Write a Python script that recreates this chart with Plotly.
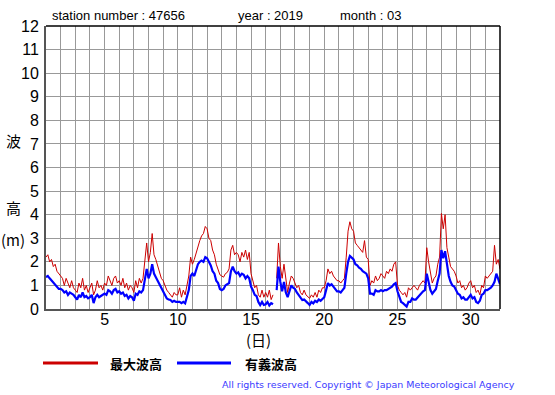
import plotly.graph_objects as go

# 3-hourly samples, day 1.000 .. 32.000 (None = missing)
max_wave = [
    2.2, 2.3, 2.0, 2.1, 1.8, 1.9, 1.6, 1.5,      # 1
    1.4, 1.3, 1.0, 1.3, 1.1, 0.9, 1.2, 0.9,      # 2
    0.8, 0.7, 1.1, 0.9, 1.3, 0.8, 1.0, 0.7,      # 3
    0.9, 1.1, 0.6, 0.8, 1.2, 0.9, 1.0, 0.8,      # 4
    1.1, 1.0, 1.4, 1.2, 1.0, 1.3, 1.4, 1.1,      # 5
    1.2, 1.0, 1.3, 0.9, 1.1, 0.8, 1.0, 0.9,      # 6
    0.7, 1.2, 0.9, 1.3, 1.1, 1.3, 2.0, 2.8,      # 7
    2.0, 2.4, 3.2, 2.3, 2.1, 1.8, 1.6, 1.3,      # 8
    1.2, 1.0, 0.8, 0.7, 0.6, 0.5, 0.7, 0.6,      # 9
    0.6, 0.9, 0.5, 0.8, 0.6, 1.0, 1.4, 2.2,      # 10
    1.9, 2.1, 2.4, 2.6, 2.9, 3.1, 3.2, 3.5,      # 11
    3.4, 3.0, 2.9, 2.5, 2.3, 1.9, 1.7, 1.45,     # 12
    1.4, 1.35, 1.5, 1.55, 1.7, 2.5, 2.7, 2.3,    # 13
    2.4, 2.3, 2.0, 2.4, 2.2, 2.5, 2.1, 2.4,      # 14
    1.5, 1.2, 0.9, 1.0, 0.6, 0.5, 0.8, 0.5,      # 15
    0.7, 0.5, 0.8, 0.4, 0.6, None, 1.3, 2.8,     # 16
    1.8, 1.3, 1.9, 1.2, 0.7, 1.1, 1.4, 1.3,      # 17
    1.1, 0.9, 1.0, 0.7, 0.6, 0.8, 0.6, 0.5,      # 18
    0.45, 0.6, 0.5, 0.7, 0.5, 0.8, 0.7, 0.9,     # 19
    0.9, 1.2, 1.7, 1.5, 1.6, 1.4, 1.3, 1.2,      # 20
    1.2, 1.1, 1.2, 1.3, 2.2, 3.3, 3.7, 3.4,      # 21
    3.3, 2.8, 2.7, 2.6, 2.5, 2.4, 2.9, 2.2,      # 22
    2.1, 1.0, 1.2, 1.1, 1.4, 1.2, 1.3, 1.5,      # 23
    1.4, 1.3, 1.6, 1.5, 1.7, 1.6, 1.9, 2.0,      # 24
    1.0, 0.8, 0.7, 0.6, 0.7, 0.5, 0.9, 0.8,      # 25
    0.9, 1.0, 0.9, 0.8, 1.0, 1.1, 1.2, 1.1,      # 26
    2.6, 2.0, 1.5, 1.1, 1.3, 1.4, 1.9, 2.2,      # 27
    4.05, 3.4, 4.0, 2.6, 2.2, 1.8, 1.7, 1.6,     # 28
    1.4, 1.1, 1.2, 0.9, 1.0, 0.8, 0.9, 1.1,      # 29
    1.2, 0.9, 1.0, 0.7, 0.8, 0.6, 1.0, 0.9,      # 30
    1.4, 1.3, 1.4, 1.5, 1.6, 2.7, 1.9, 2.1,      # 31
    1.7,                                         # 32.0
]

sig_wave = [
    1.35, 1.4, 1.3, 1.2, 1.1, 1.0, 0.9, 0.85,    # 1
    0.85, 0.8, 0.7, 0.75, 0.6, 0.7, 0.65, 0.6,   # 2
    0.5, 0.4, 0.6, 0.5, 0.7, 0.5, 0.55, 0.45,    # 3
    0.5, 0.6, 0.25, 0.5, 0.6, 0.5, 0.55, 0.6,    # 4
    0.65, 0.6, 0.8, 0.75, 0.65, 0.8, 0.85, 0.7,  # 5
    0.75, 0.65, 0.7, 0.55, 0.6, 0.45, 0.55, 0.5, # 6
    0.35, 0.65, 0.6, 0.75, 0.7, 0.8, 1.2, 1.7,   # 7
    1.3, 1.5, 1.9, 1.5, 1.35, 1.2, 1.0, 0.85,    # 8
    0.75, 0.6, 0.45, 0.4, 0.38, 0.3, 0.35, 0.3,  # 9
    0.3, 0.3, 0.25, 0.3, 0.24, 0.5, 0.8, 1.4,    # 10
    1.5, 1.4, 1.7, 1.9, 2.0, 2.05, 2.0, 2.2,     # 11
    2.15, 2.0, 1.85, 1.6, 1.5, 1.2, 1.1, 0.85,   # 12
    0.8, 0.85, 1.0, 1.05, 1.1, 1.6, 1.8, 1.6,    # 13
    1.5, 1.55, 1.4, 1.5, 1.45, 1.3, 1.4, 1.3,    # 14
    0.95, 0.8, 0.6, 0.55, 0.3, 0.17, 0.3, 0.17,  # 15
    0.2, 0.3, 0.15, 0.25, 0.2, None, 0.8, 1.8,   # 16
    1.15, 0.75, 1.15, 0.7, 0.5, 0.75, 1.0, 0.9,  # 17
    0.85, 0.7, 0.6, 0.45, 0.38, 0.4, 0.3, 0.25,  # 18
    0.17, 0.3, 0.24, 0.35, 0.3, 0.4, 0.35, 0.45, # 19
    0.5, 0.8, 1.1, 1.0, 1.05, 0.95, 0.85, 0.75,  # 20
    0.75, 0.7, 0.8, 0.9, 1.5, 2.0, 2.25, 2.15,   # 21
    2.1, 1.9, 1.85, 1.75, 1.7, 1.6, 1.55, 1.5,   # 22
    1.3, 0.65, 0.65, 0.6, 0.8, 0.75, 0.75, 0.8,  # 23
    0.75, 0.8, 0.8, 0.85, 0.9, 0.95, 1.05, 1.1,  # 24
    0.75, 0.5, 0.3, 0.25, 0.15, 0.1, 0.3, 0.3,   # 25
    0.45, 0.4, 0.4, 0.5, 0.6, 0.65, 0.75, 0.8,   # 26
    1.5, 1.15, 0.8, 0.65, 0.75, 0.85, 1.2, 1.5,  # 27
    2.5, 2.15, 2.45, 1.8, 1.4, 1.15, 1.0, 0.95,  # 28
    0.8, 0.65, 0.6, 0.45, 0.5, 0.4, 0.4, 0.5,    # 29
    0.6, 0.45, 0.5, 0.3, 0.25, 0.35, 0.6, 0.65,  # 30
    0.8, 0.8, 0.85, 0.9, 1.0, 1.15, 1.5, 1.3,    # 31
    1.05,                                        # 32.0
]

days = [1 + i / 8 for i in range(len(max_wave))]
x_ticks = [5, 10, 15, 20, 25, 30]
y_ticks = list(range(0, 13))

title_parts = ["station number : 47656", "year : 2019", "month : 03"]
y_label_parts = ["波", "高", "(m)"]
x_label = "(日)"
legend_names = ["最大波高", "有義波高"]
copyright_text = "All rights reserved. Copyright © Japan Meteorological Agency"

RED = "#cc0000"
BLUE = "#0000ff"
FONT = "Arial, Liberation Sans, sans-serif"
JFONT = "Noto Sans CJK JP"

W, H = 555, 395
# plot area in window pixels
L, R, T, B = 46, 500, 26, 309


def px(xp):
    return (xp - L) / (R - L)


def py(yp):
    return (B - yp) / (B - T)


fig = go.Figure()
fig.add_trace(go.Scatter(x=days, y=max_wave, mode="lines", line=dict(color=RED, width=1),
                         connectgaps=False, showlegend=False, name=legend_names[0]))
fig.add_trace(go.Scatter(x=days, y=sig_wave, mode="lines", line=dict(color=BLUE, width=2.2),
                         connectgaps=False, showlegend=False, name=legend_names[1]))

grid_col = "#999999"
fig.update_layout(
    width=W, height=H, autosize=False,
    margin=dict(l=L, r=W - R, t=T, b=H - B),
    paper_bgcolor="white", plot_bgcolor="white",
    font=dict(family=FONT, color="black"),
    xaxis=dict(range=[1, 32], tickvals=x_ticks, ticktext=[str(v) for v in x_ticks],
               showgrid=True, gridcolor=grid_col, gridwidth=1,
               minor=dict(tick0=1, dtick=1, showgrid=True, gridcolor=grid_col, gridwidth=1),
               showline=True, linecolor="#555555", linewidth=2, zeroline=False,
               tickfont=dict(size=16, family=FONT), ticks="", ticklabelstandoff=-5),
    yaxis=dict(range=[0, 12], tickvals=y_ticks, showgrid=True, gridcolor=grid_col, gridwidth=1,
               showline=True, linecolor="#555555", linewidth=2, zeroline=False,
               tickfont=dict(size=16, family=FONT), ticks="", ticklabelstandoff=2),
)

shapes = [
    dict(type="line", xref="paper", yref="paper", x0=0, x1=1, y0=1, y1=1,
         line=dict(color="black", width=1.5)),
    dict(type="line", xref="paper", yref="paper", x0=1, x1=1, y0=0, y1=1,
         line=dict(color="black", width=1.5)),
    dict(type="line", xref="paper", yref="paper", x0=px(43), x1=px(98), y0=py(363), y1=py(363),
         line=dict(color=RED, width=3)),
    dict(type="line", xref="paper", yref="paper", x0=px(177), x1=px(231), y0=py(363), y1=py(363),
         line=dict(color=BLUE, width=3)),
]
fig.update_layout(shapes=shapes)

ann = []
for text, xpos in zip(title_parts, [50, 236, 338]):
    ann.append(dict(text=text, x=px(xpos), y=py(16), xref="paper", yref="paper",
                    xanchor="left", yanchor="middle", showarrow=False,
                    font=dict(size=13, family=FONT, color="black")))
for text, ypos in zip(y_label_parts, [140, 207, 239]):
    ann.append(dict(text=text, x=px(13), y=py(ypos), xref="paper", yref="paper",
                    xanchor="center", yanchor="middle", showarrow=False,
                    font=dict(size=15, family=JFONT, color="black")))
ann.append(dict(text=x_label, x=px(258), y=py(339), xref="paper", yref="paper",
                xanchor="center", yanchor="middle", showarrow=False,
                font=dict(size=15, family=JFONT, color="black")))
for text, xpos in zip(legend_names, [108, 243]):
    ann.append(dict(text="<b>" + text + "</b>", x=px(xpos), y=py(363), xref="paper", yref="paper",
                    xanchor="left", yanchor="middle", showarrow=False,
                    font=dict(size=13, family=JFONT, color="black")))
ann.append(dict(text=copyright_text, x=px(517), y=py(384), xref="paper", yref="paper",
                xanchor="right", yanchor="middle", showarrow=False,
                font=dict(size=9.5, family="DejaVu Sans, Verdana, sans-serif", color="#3a3aff")))
fig.update_layout(annotations=ann)

fig.write_html("out.html", config={"displayModeBar": False},
               post_script="document.body.style.margin='0';document.body.style.overflow='hidden';")
